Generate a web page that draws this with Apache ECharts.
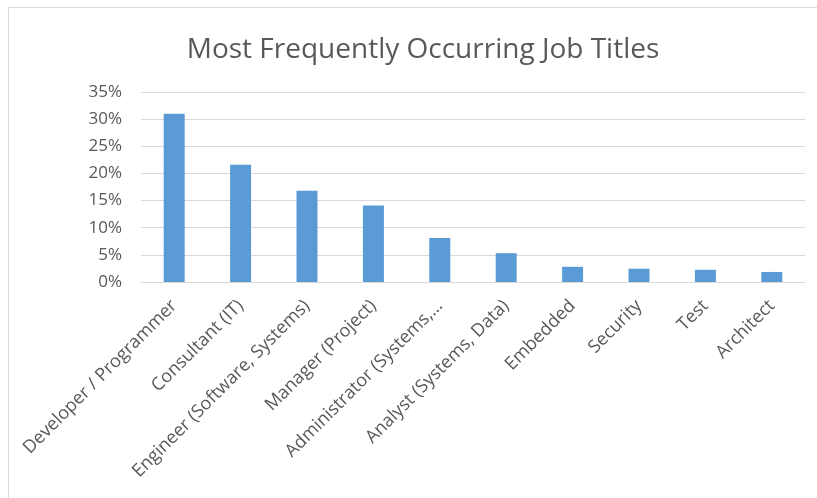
<!DOCTYPE html>
<html>
<head>
<meta charset="utf-8">
<script src="https://cdn.jsdelivr.net/npm/echarts@6/dist/echarts.min.js"></script>
<style>
	html, body { margin: 0; padding: 0; background: #fff; }
	#frame { position: absolute; left: 8px; top: 7px; width: 830px; height: 510px; border: 1px solid #d9d9d9; box-sizing: border-box; }
	#chart { position: absolute; left: 0; top: 0; width: 817px; height: 498px; }
</style>
</head>
<body>
<div id="frame"></div>
<div id="chart"></div>
<script>
// 职位名称
var jobTitles = ['Developer / Programmer', 'Consultant (IT)', 'Engineer (Software, Systems)',
	'Manager (Project)', 'Administrator (Systems,…', 'Analyst (Systems, Data)',
	'Embedded', 'Security', 'Test', 'Architect'];
// 占比 (%)
var shares = [31.0, 21.6, 16.8, 14.1, 8.1, 5.3, 2.8, 2.45, 2.25, 1.85];
var yTicks = [0, 5, 10, 15, 20, 25, 30, 35];

var myChart = echarts.init(document.getElementById('chart'));
var option = {
	backgroundColor: 'transparent',
	animation: false,
	title: {
		text: 'Most Frequently Occurring Job Titles',
		left: 418,
		textAlign: 'center',
		top: 31,
		textStyle: {
			fontFamily: 'Open Sans',
			fontWeight: 'normal',
			fontSize: 28,
			color: '#595959'
		}
	},
	grid: {
		left: 141,
		right: 12,
		top: 92,
		bottom: 216,
		containLabel: false
	},
	xAxis: {
		type: 'category',
		data: jobTitles,
		axisTick: { show: false },
		axisLine: { lineStyle: { color: '#d9d9d9', width: 1 } },
		axisLabel: {
			rotate: 45,
			interval: 0,
			margin: 21,
			fontFamily: 'Open Sans',
			fontSize: 18,
			color: '#595959'
		}
	},
	yAxis: {
		type: 'value',
		min: yTicks[0],
		max: yTicks[yTicks.length - 1],
		interval: 5,
		axisLine: { show: false },
		axisTick: { show: false },
		splitLine: { lineStyle: { color: '#d9d9d9', width: 1 } },
		axisLabel: {
			margin: 19,
			fontFamily: 'Open Sans',
			fontSize: 17,
			color: '#595959',
			formatter: '{value}%'
		}
	},
	series: [{
		type: 'bar',
		data: shares,
		barWidth: 21,
		itemStyle: { color: '#5B9BD5' }
	}]
};
myChart.setOption(option);
</script>
</body>
</html>
